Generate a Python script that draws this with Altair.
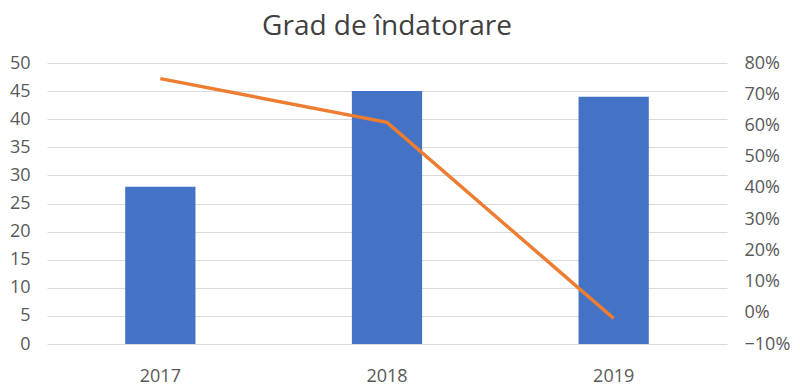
import altair as alt
import pandas as pd

years = ["2017", "2018", "2019"]
debt_values = [28, 45, 44]
debt_ratio = [0.75, 0.61, -0.018]

df = pd.DataFrame({"an": years, "valoare": debt_values, "grad": debt_ratio})

FONT = "Open Sans"
LABEL_COLOR = "#595959"

base = alt.Chart(df).encode(
    x=alt.X("an:N", title=None,
            scale=alt.Scale(paddingInner=0.69, paddingOuter=0.345),
            axis=alt.Axis(labelAngle=0, ticks=False, domain=False,
                          labelPadding=23, labelFontSize=18, labelColor=LABEL_COLOR,
                          labelFont=FONT))
)

bars = base.mark_bar(color="#4472C4").encode(
    y=alt.Y("valoare:Q", title=None,
            scale=alt.Scale(domain=[0, 50], nice=False),
            axis=alt.Axis(values=list(range(0, 51, 5)), ticks=False, domain=False,
                          gridColor="#D9D9D9", gridWidth=1, labelPadding=17,
                          labelFontSize=18, labelColor=LABEL_COLOR, labelFont=FONT))
)

line = base.mark_line(color="#ED7D31", strokeWidth=3.5).encode(
    y=alt.Y("grad:Q", title=None,
            scale=alt.Scale(domain=[-0.1, 0.8], nice=False),
            axis=alt.Axis(orient="right", format=".0%",
                          values=[round(-0.1 + 0.1 * i, 2) for i in range(10)],
                          ticks=False, domain=False, grid=False, labelPadding=17,
                          labelFontSize=18, labelColor=LABEL_COLOR, labelFont=FONT))
)

chart = alt.layer(bars, line).resolve_scale(y="independent").properties(
    width=680, height=281,
    title=alt.Title("Grad de îndatorare", fontSize=28, font=FONT,
                    fontWeight="normal", color="#404040", offset=13),
    padding={"left": 1, "right": 0, "top": 5, "bottom": 0},
).configure_view(stroke=None)

chart.save("out.html", embed_options={"renderer": "svg", "actions": False})
